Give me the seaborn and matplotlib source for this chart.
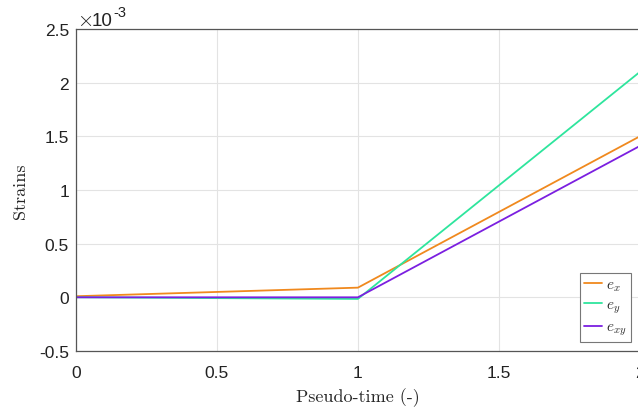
import pandas as pd
import matplotlib.pyplot as plt
import seaborn as sns
from matplotlib.ticker import FuncFormatter

# Data: strains vs pseudo-time (piecewise linear)
pseudo_time = [0.0, 1.0, 2.0]
e_x = [0.01e-3, 0.09e-3, 1.50e-3]
e_y = [0.0, -0.015e-3, 2.10e-3]
e_xy = [0.0, 0.0, 1.41e-3]

labels = [r'$e_x$', r'$e_y$', r'$e_{xy}$']
colors = ['#F0891E', '#2EE59D', '#7B1FE0']

df = pd.DataFrame({
    'time': pseudo_time * 3,
    'strain': e_x + e_y + e_xy,
    'series': [labels[0]] * 3 + [labels[1]] * 3 + [labels[2]] * 3,
})

sns.set_theme(style="white")
plt.rcParams['mathtext.fontset'] = 'cm'
plt.rcParams['font.family'] = ['Liberation Sans', 'DejaVu Sans']

fig = plt.figure(figsize=(6.38, 4.10), dpi=100)
ax = fig.add_axes([0.119, 0.1415, 0.884, 0.7855])

sns.lineplot(data=df, x='time', y='strain', hue='series',
             palette=dict(zip(labels, colors)), linewidth=1.3, ax=ax)

ax.set_xlim(0, 2)
ax.set_ylim(-0.5e-3, 2.5e-3)
ax.set_xticks([0, 0.5, 1, 1.5, 2])
ax.set_xticklabels(['0', '0.5', '1', '1.5', '2'])
ax.set_yticks([-0.5e-3, 0, 0.5e-3, 1e-3, 1.5e-3, 2e-3, 2.5e-3])
ax.yaxis.set_major_formatter(FuncFormatter(lambda v, p: '%g' % round(v * 1e3, 3)))

# MATLAB-style exponent label
ax.text(0.002, 1.012, r'$\times$', transform=ax.transAxes,
        fontsize=15, color='#222222', ha='left', va='baseline')
ax.text(0.028, 1.012, '10', transform=ax.transAxes,
        fontsize=13.5, color='#222222', ha='left', va='baseline')
ax.text(0.066, 1.04, '-3', transform=ax.transAxes,
        fontsize=10.5, color='#222222', ha='left', va='baseline')

ax.grid(True, color='#e3e3e3', linewidth=0.8)
ax.tick_params(direction='in', length=3, labelsize=12.5, colors='#222222')
ax.tick_params(axis='x', pad=10)
ax.tick_params(axis='y', pad=5)
for side in ['left', 'bottom', 'top']:
    ax.spines[side].set_color('#555555')
    ax.spines[side].set_linewidth(0.9)
ax.spines['right'].set_visible(False)

ax.set_xlabel('Pseudo-time (-)', fontfamily='cmr10', fontsize=13, labelpad=5)
ax.set_ylabel('Strains', fontfamily='cmr10', fontsize=13, labelpad=8)

leg = ax.legend(loc='lower right', bbox_to_anchor=(0.997, 0.004), fontsize=11,
                handlelength=1.2, handletextpad=0.2, borderpad=0.3,
                labelspacing=0.3, fancybox=False, framealpha=1,
                edgecolor='#777777')
leg.get_frame().set_linewidth(0.8)

fig.savefig('out.png', dpi=100)
